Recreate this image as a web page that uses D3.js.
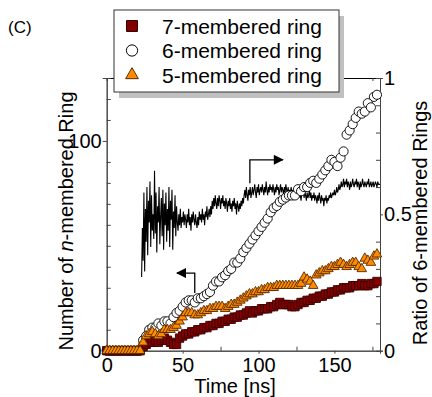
<!DOCTYPE html>
<html>
<head>
<meta charset="utf-8">
<script src="https://cdn.jsdelivr.net/npm/d3@7"></script>
<style>
  html, body { margin: 0; padding: 0; background: #fff; }
  svg { display: block; font-family: "Liberation Sans", Arial, sans-serif; }
</style>
</head>
<body>
<div id="chart"></div>
<script>
// sampling times of the ring counts [ns]
const markerTimes = [0, 2, 4, 6, 8, 10, 12, 14, 16, 18, 20, 22, 24, 26, 28, 30, 32, 34, 36, 38,
  40, 42, 44, 46, 48, 50, 52, 54, 56, 58, 60, 62, 64, 66, 68, 70, 72, 74, 76, 78,
  80, 82, 84, 86, 88, 90, 92, 94, 96, 98, 100, 102, 104, 106, 108, 110, 112, 114, 116, 118,
  120, 122, 124, 126, 128, 130, 132, 134, 136, 138, 140, 142, 144, 146, 148, 150, 152, 154, 156, 158,
  160, 162, 164, 166, 168, 170, 172, 174, 176, 178];

const ring7 = [0, 0, 0, 0, 0, 0, 0, 0, 0, 0, 0, 0, 2, 3, 4, 4, 5, 4, 5, 6,
  5, 4, 3, 3, 6, 7, 8, 8, 9, 9, 10, 10, 11, 11, 12, 12, 13, 13, 14, 14,
  15, 15, 16, 16, 17, 17, 18, 19, 18, 19, 19, 20, 20, 20, 21, 21, 22, 23, 22, 22,
  22, 21, 21, 22, 23, 23, 24, 24, 25, 25, 26, 26, 27, 27, 28, 28, 29, 29, 30, 30,
  30, 31, 31, 31, 32, 31, 31, 32, 32, 33];

const ring6 = [0, 0, 0, 0, 0, 0, 0, 0, 0, 0, 0, 0, 5, 7, 10, 11, 11, 13, 12, 14,
  14, 13, 16, 18, 19, 21, 23, 24, 24, 23, 25, 25, 26, 27, 28, 31, 33, 33, 35, 36,
  38, 39, 42, 42, 44, 47, 49, 51, 53, 55, 57, 59, 61, 63, 66, 68, 69, 71, 72, 73,
  74, 74, 74, 77, 76, 78, 78, 80, 81, 80, 82, 84, 86, 88, 91, 90, 88, 92, 95, 103,
  105, 108, 111, 114, 113, 114, 118, 116, 121, 122];

const ring5 = [0, 0, 0, 0, 0, 0, 0, 0, 0, 0, 0, 0, 4, 7, 8, 9, 8, 7, 8, 10,
  10, 10, 11, 12, 14, 16, 18, 18, 18, 17, 17, 18, 19, 19, 20, 20, 21, 21, 21, 20,
  21, 22, 22, 23, 24, 25, 26, 27, 27, 28, 28, 29, 29, 30, 30, 30, 31, 31, 31, 31,
  31, 31, 31, 31, 32, 35, 34, 33, 31, 36, 37, 38, 38, 39, 40, 40, 41, 42, 41, 40,
  41, 42, 42, 40, 39, 44, 43, 42, 45, 46];

// ratio of 6-membered rings, one value every 0.5 ns from 23 ns to 180 ns
const ratioStart = 23;
const ratioStep = 0.5;
const ratio6 = [
  0.27, 0.45, 0.33, 0.58, 0.29, 0.52, 0.40, 0.60, 0.35, 0.55,
  0.47, 0.62, 0.38, 0.57, 0.44, 0.50, 0.41, 0.66, 0.43, 0.58,
  0.36, 0.53, 0.47, 0.60, 0.39, 0.49, 0.56, 0.42, 0.59, 0.37,
  0.54, 0.46, 0.58, 0.40, 0.52, 0.44, 0.60, 0.38, 0.55, 0.48,
  0.59, 0.37, 0.51, 0.45, 0.57, 0.42, 0.53, 0.47,
  0.44, 0.50, 0.46, 0.52, 0.45, 0.49, 0.47, 0.51, 0.46, 0.50,
  0.48, 0.45, 0.50, 0.47, 0.52, 0.46, 0.49, 0.44, 0.50, 0.47,
  0.51, 0.48, 0.46, 0.50, 0.47, 0.45, 0.49, 0.46, 0.51, 0.48,
  0.50, 0.47, 0.52, 0.48, 0.50, 0.46, 0.51, 0.49, 0.53, 0.48,
  0.50, 0.52,
  0.49, 0.53, 0.50, 0.55, 0.52, 0.56, 0.53, 0.57, 0.54, 0.52,
  0.56, 0.53, 0.57, 0.55, 0.52, 0.56, 0.54, 0.57, 0.53, 0.55,
  0.52, 0.56, 0.54, 0.51, 0.55, 0.53, 0.56, 0.52, 0.54, 0.51,
  0.55, 0.53, 0.56, 0.52, 0.54, 0.50, 0.55, 0.53, 0.51, 0.54,
  0.52, 0.55, 0.53, 0.56, 0.54, 0.57,
  0.59, 0.56, 0.60, 0.57, 0.55, 0.59, 0.57, 0.60, 0.56, 0.58,
  0.60, 0.57, 0.59, 0.61, 0.58, 0.56, 0.60, 0.58, 0.61, 0.57,
  0.59, 0.60, 0.58, 0.61, 0.59, 0.57, 0.60, 0.58, 0.62, 0.59,
  0.57, 0.60, 0.58, 0.61, 0.59, 0.60, 0.58, 0.61, 0.59, 0.57,
  0.60, 0.58, 0.61, 0.59, 0.60, 0.57, 0.59, 0.61, 0.58, 0.60,
  0.59, 0.57, 0.60, 0.58, 0.61, 0.59, 0.58, 0.60, 0.57, 0.59,
  0.58, 0.60, 0.57, 0.59, 0.58, 0.56,
  0.58, 0.56, 0.59, 0.57, 0.58, 0.56, 0.59, 0.57, 0.55, 0.58,
  0.57, 0.59, 0.56, 0.58, 0.57, 0.55, 0.58, 0.56, 0.57, 0.59,
  0.56, 0.58, 0.55, 0.57, 0.56, 0.58, 0.55, 0.57, 0.56, 0.54,
  0.57, 0.55, 0.58, 0.56, 0.54, 0.57, 0.55, 0.56, 0.53, 0.56,
  0.55, 0.57, 0.54, 0.56, 0.55, 0.57, 0.56, 0.58, 0.56, 0.57,
  0.58, 0.57,
  0.59, 0.57, 0.58, 0.60, 0.58, 0.59, 0.61, 0.59, 0.60, 0.62,
  0.60, 0.61, 0.63, 0.60, 0.62, 0.61, 0.63, 0.60, 0.62, 0.61,
  0.59, 0.62, 0.60, 0.61, 0.63, 0.61, 0.60, 0.62, 0.61, 0.63,
  0.60, 0.62, 0.61, 0.59, 0.62, 0.60, 0.61, 0.63, 0.61, 0.60,
  0.62, 0.61, 0.60, 0.62, 0.61, 0.63, 0.60, 0.61, 0.62, 0.60,
  0.61, 0.62, 0.60, 0.61, 0.62, 0.61, 0.60, 0.62, 0.61, 0.61,
  0.61];

const legendLabels = ["7-membered ring", "6-membered ring", "5-membered ring"];

const width = 432, height = 397;
const x0 = 106.7, x1 = 380, yTop = 78, yBot = 350.7;

const svg = d3.select("#chart").append("svg")
  .attr("width", width)
  .attr("height", height);

const x = d3.scaleLinear().domain([0, 180]).range([x0, x1]);
const yL = d3.scaleLinear().domain([0, 130]).range([yBot, yTop]);
const yR = d3.scaleLinear().domain([0, 1]).range([yBot, yTop]);

const axisColor = "#444";

// minor ticks point inward, major ticks point outward
function styleAxis(g) {
  g.select(".domain").attr("stroke", axisColor);
  g.selectAll(".tick line").attr("stroke", axisColor);
  g.selectAll(".tick text").attr("fill", "#000").style("font-size", "20px")
    .style("font-family", "Liberation Sans, Arial, sans-serif");
}

// bottom axis
svg.append("g").attr("transform", `translate(0,${yBot})`)
  .call(d3.axisBottom(x).tickValues([25, 75, 125, 175]).tickSize(-4).tickFormat(""))
  .call(styleAxis);
svg.append("g").attr("transform", `translate(0,${yBot})`)
  .call(d3.axisBottom(x).tickValues([0, 50, 100, 150]).tickSize(3).tickPadding(4))
  .call(styleAxis);

// top frame
svg.append("g").attr("transform", `translate(0,${yTop})`)
  .call(d3.axisTop(x).tickValues([25, 50, 75, 100, 125, 150, 175]).tickSize(-3).tickFormat(""))
  .call(styleAxis)
  .call(g => g.select(".domain").attr("stroke", "#000"));

// left axis
svg.append("g").attr("transform", `translate(${x0},0)`)
  .call(d3.axisLeft(yL).tickValues([10, 20, 30, 40, 50, 60, 70, 80, 90, 110, 120]).tickSize(-4).tickFormat(""))
  .call(styleAxis);
svg.append("g").attr("transform", `translate(${x0},0)`)
  .call(d3.axisLeft(yL).tickValues([0, 100]).tickSize(4).tickPadding(1))
  .call(styleAxis);

// right axis
svg.append("g").attr("transform", `translate(${x1},0)`)
  .call(d3.axisRight(yR).tickValues([0.1, 0.2, 0.3, 0.4, 0.6, 0.7, 0.8, 0.9]).tickSize(-4).tickFormat(""))
  .call(styleAxis);
svg.append("g").attr("transform", `translate(${x1},0)`)
  .call(d3.axisRight(yR).tickValues([0, 0.5, 1]).tickSize(3).tickPadding(1).tickFormat(d3.format("~g")))
  .call(styleAxis);

// axis titles
svg.append("text")
  .attr("x", 235).attr("y", 393)
  .attr("text-anchor", "middle")
  .style("font-size", "20px")
  .text("Time [ns]");

const leftTitle = svg.append("text")
  .attr("transform", "translate(73,221) rotate(-90)")
  .attr("text-anchor", "middle")
  .style("font-size", "20px");
leftTitle.append("tspan").text("Number of ");
leftTitle.append("tspan").style("font-style", "italic").text("n");
leftTitle.append("tspan").text("-membered Ring");

svg.append("text")
  .attr("transform", "translate(427,223) rotate(-90)")
  .attr("text-anchor", "middle")
  .style("font-size", "20px")
  .text("Ratio of 6-membered Rings");

svg.append("text")
  .attr("x", 8).attr("y", 33)
  .style("font-size", "17px")
  .text("(C)");

// ratio line
const ratioPts = ratio6.map((v, i) => [ratioStart + i * ratioStep, v]);
svg.append("path")
  .datum(ratioPts)
  .attr("fill", "none")
  .attr("stroke", "#000")
  .attr("stroke-width", 1.1)
  .attr("stroke-linejoin", "bevel")
  .attr("d", d3.line().x(d => x(d[0])).y(d => yR(d[1])));

// markers
const sym = {
  square: d3.symbol().type(d3.symbolSquare).size(70),
  circle: d3.symbol().type(d3.symbolCircle).size(66),
  triangle: d3.symbol().type(d3.symbolTriangle).size(40)
};

const series = [
  { vals: ring6, shape: "circle", fill: "#fff", stroke: "#000" },
  { vals: ring7, shape: "square", fill: "#800000", stroke: "#3a0000" },
  { vals: ring5, shape: "triangle", fill: "#ff8c00", stroke: "#5a2a00" }
];

series.forEach(s => {
  svg.append("g").selectAll("path")
    .data(s.vals.map((v, i) => [markerTimes[i], v]))
    .join("path")
      .attr("transform", d => `translate(${x(d[0])},${yL(d[1])})`)
      .attr("d", sym[s.shape])
      .attr("fill", s.fill)
      .attr("stroke", s.stroke)
      .attr("stroke-width", 0.9);
});

// arrows showing which axis each curve belongs to
svg.append("defs").append("marker")
  .attr("id", "head")
  .attr("viewBox", "0 0 10 10")
  .attr("refX", 9).attr("refY", 5)
  .attr("markerWidth", 11).attr("markerHeight", 10)
  .attr("markerUnits", "userSpaceOnUse")
  .attr("orient", "auto")
  .append("path").attr("d", "M0,0L10,5L0,10Z").attr("fill", "#000");

svg.append("path")
  .attr("d", d3.line()([[x(58), yL(27.5)], [x(58), yL(37)], [x(46.3), yL(37)]]))
  .attr("fill", "none").attr("stroke", "#000").attr("stroke-width", 1.3)
  .attr("marker-end", "url(#head)");

svg.append("path")
  .attr("d", d3.line()([[x(94.3), yR(0.614)], [x(94.3), yR(0.70)], [x(116), yR(0.70)]]))
  .attr("fill", "none").attr("stroke", "#000").attr("stroke-width", 1.3)
  .attr("marker-end", "url(#head)");

// legend
const lg = svg.append("g");
lg.append("rect").attr("x", 119).attr("y", 16).attr("width", 225).attr("height", 82).attr("fill", "#c0c0c0");
lg.append("rect").attr("x", 114).attr("y", 10).attr("width", 225).attr("height", 82)
  .attr("fill", "#fff").attr("stroke", "#333").attr("stroke-width", 1);

const legendSym = {
  square: d3.symbol().type(d3.symbolSquare).size(120),
  circle: d3.symbol().type(d3.symbolCircle).size(100),
  triangle: d3.symbol().type(d3.symbolTriangle).size(70)
};
const legendOrder = [series[1], series[0], series[2]];
legendLabels.forEach((label, i) => {
  const s = legendOrder[i];
  const cy = 26 + i * 24.5;
  lg.append("path")
    .attr("transform", `translate(132,${cy})`)
    .attr("d", legendSym[s.shape])
    .attr("fill", s.fill).attr("stroke", s.stroke).attr("stroke-width", 1);
  lg.append("text")
    .attr("x", 162).attr("y", cy + 7.5)
    .style("font-size", "21px")
    .text(label);
});
</script>
</body>
</html>
